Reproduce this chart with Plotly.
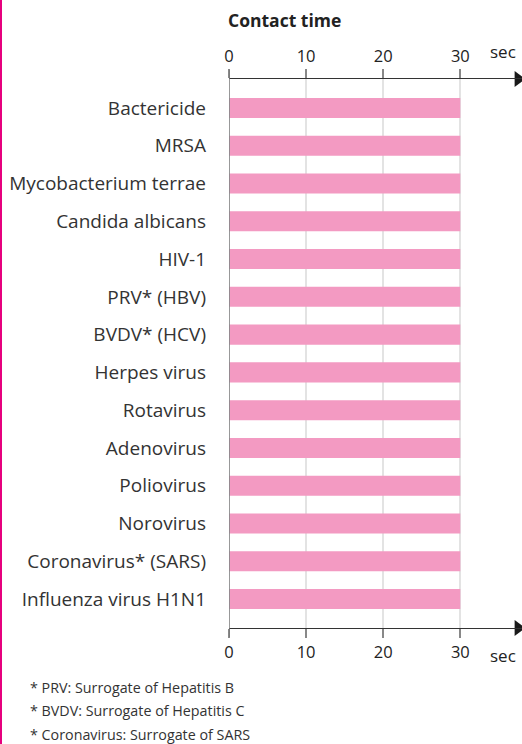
import plotly.graph_objects as go

categories = ["Bactericide", "MRSA", "Mycobacterium terrae", "Candida albicans", "HIV-1",
              "PRV* (HBV)", "BVDV* (HCV)", "Herpes virus", "Rotavirus", "Adenovirus",
              "Poliovirus", "Norovirus", "Coronavirus* (SARS)", "Influenza virus H1N1"]
contact_time = [30] * 14
tick_vals = [0, 10, 20, 30]
footnotes = ["* PRV: Surrogate of Hepatitis B",
             "* BVDV: Surrogate of Hepatitis C",
             "* Coronavirus: Surrogate of SARS"]

W, H = 522, 744
L, R, T, B = 229, 0, 79, 116
pw, ph = W - L - R, H - T - B
XMAX = 38.0
FONT = "Open Sans"

fig = go.Figure()
fig.add_trace(go.Bar(y=categories, x=contact_time, orientation="h", width=0.53,
                     marker=dict(color="#f39ac2", line=dict(width=0)), xaxis="x", yaxis="y"))
# invisible trace to activate top axis
fig.add_trace(go.Bar(y=categories, x=[0]*14, orientation="h", xaxis="x2", yaxis="y",
                     showlegend=False, hoverinfo="skip", marker=dict(color="rgba(0,0,0,0)")))

# arrowheads at the ends of both axes (on a hidden numeric overlay axis)
fig.add_trace(go.Scatter(x=[XMAX - 0.5, XMAX - 0.5], y=[0, 1], mode="markers",
                         marker=dict(symbol="triangle-right", size=14, color="#1a1a1a"),
                         xaxis="x", yaxis="y2",
                         cliponaxis=False, showlegend=False, hoverinfo="skip"))

axis_common = dict(range=[0, XMAX], tickvals=tick_vals, showgrid=True, gridcolor="#e3e3e3",
                   gridwidth=1.5, showline=True, linecolor="#333333", linewidth=1.3,
                   ticks="outside", ticklen=9, tickcolor="#888888", tickwidth=1.5,
                   tickfont=dict(family=FONT, size=16.5, color="#222222"), zeroline=False,
                   automargin=False)
fig.update_layout(
    width=W, height=H, margin=dict(l=L, r=R, t=T, b=B, autoexpand=False),
    paper_bgcolor="white", plot_bgcolor="white", showlegend=False, barmode="overlay",
    xaxis=dict(side="bottom", **axis_common),
    xaxis2=dict(side="top", overlaying="x", **axis_common),
    yaxis=dict(range=[13.77, -0.77], type="category", showgrid=False, showline=False,
               ticks="", zeroline=False, ticklabelstandoff=22, automargin=False,
               tickfont=dict(family=FONT, size=19, color="#333333")),
    yaxis2=dict(range=[0, 1], overlaying="y", visible=False, showgrid=False, zeroline=False),
)

# vertical axis line extending past ticks
fig.add_shape(type="line", xref="x", yref="paper", x0=0, x1=0, y0=-9/ph, y1=1 + 9/ph,
              line=dict(color="#777777", width=1.5))
# magenta left border
fig.add_shape(type="line", xref="paper", yref="paper", x0=-(L - 1)/pw, x1=-(L - 1)/pw,
              y0=-B/ph, y1=1 + T/ph, line=dict(color="#e6007e", width=2))

# "sec" labels
for yp in [1 + 27/ph, -27/ph]:
    fig.add_annotation(x=35.6, y=yp, xref="x", yref="paper", text="sec", showarrow=False,
                       font=dict(family=FONT, size=17, color="#222222"), yanchor="middle")

# title
fig.add_annotation(x=0, y=1 + (79 - 20)/ph, xref="paper", yref="paper", xshift=-3,
                   text="<b>Contact time</b>", showarrow=False, xanchor="left", yanchor="middle",
                   font=dict(family=FONT, size=17.5, color="#222222"))

# footnotes
for i, t in enumerate(footnotes):
    ypix = 687 + i * 23.5
    fig.add_annotation(x=(28 - L)/pw, y=(H - B - ypix)/ph, xref="paper", yref="paper",
                       text=t, showarrow=False, xanchor="left", yanchor="middle",
                       font=dict(family=FONT, size=14.3, color="#333333"))

fig.write_html("out.html", config={"displayModeBar": False},
               post_script="document.body.style.margin='0';document.body.style.padding='0';")
